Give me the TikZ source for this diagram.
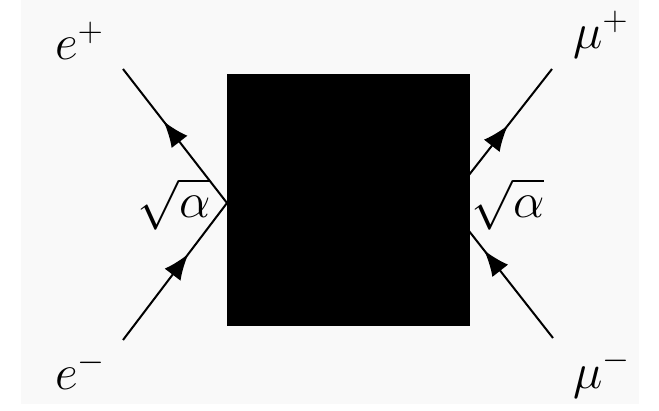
\documentclass[tikz,border=0pt]{standalone}
\usepackage{amsmath}
\usetikzlibrary{arrows.meta}
\usetikzlibrary{decorations.markings}
\definecolor{pagegray}{RGB}{249,249,249}

\begin{document}
\begin{tikzpicture}[x=0.5pt, y=-0.5pt,
  fermion/.style={line width=1pt, postaction={decorate},
    decoration={markings, mark=at position #1 with
      {\arrow{Latex[length=13pt, width=10pt]}}}},
  leglabel/.style={inner sep=0pt, font=\fontsize{23}{28}\selectfont}]
  % page and its light grey field
  \useasboundingbox (0,0) rectangle (659,411);
  \fill[white] (0,0) rectangle (659,411);
  \fill[pagegray] (21,0) rectangle (639,404);
  % end points of the four legs and the two vertices
  \coordinate (epos) at (123,69);
  \coordinate (eneg) at (123,340);
  \coordinate (mupos) at (552,69);
  \coordinate (muneg) at (553,338);
  \coordinate (vleft) at (227,203);
  \coordinate (vright) at (447,203);
  % ---------- electron line ----------
  \draw[fermion=0.63] (eneg) -- (vleft);
  \draw[fermion=0.61] (vleft) -- (epos);
  % ---------- muon line ----------
  \draw[fermion=0.65] (muneg) -- (vright);
  \draw[fermion=0.58] (vright) -- (mupos);
  % the unknown blob in the middle
  \node (blob) [fill=black, inner sep=0pt, minimum width=121.5pt,
    minimum height=126pt] at (348.5,200) {};
  % couplings at the vertices
  \node (gleft) [leglabel] at (174,204) {$\sqrt{\alpha}$};
  \node (gright) [leglabel] at (508,204) {$\sqrt{\alpha}$};
  % particle labels
  \node (lepos) [leglabel, anchor=base west] at (55,60) {$e^+$};
  \node (leneg) [leglabel, anchor=base west] at (55,390) {$e^-$};
  \node (lmupos) [leglabel, anchor=base west] at (573,49) {$\mu^+$};
  \node (lmuneg) [leglabel, anchor=base west] at (573,388) {$\mu^-$};
\end{tikzpicture}
\end{document}
